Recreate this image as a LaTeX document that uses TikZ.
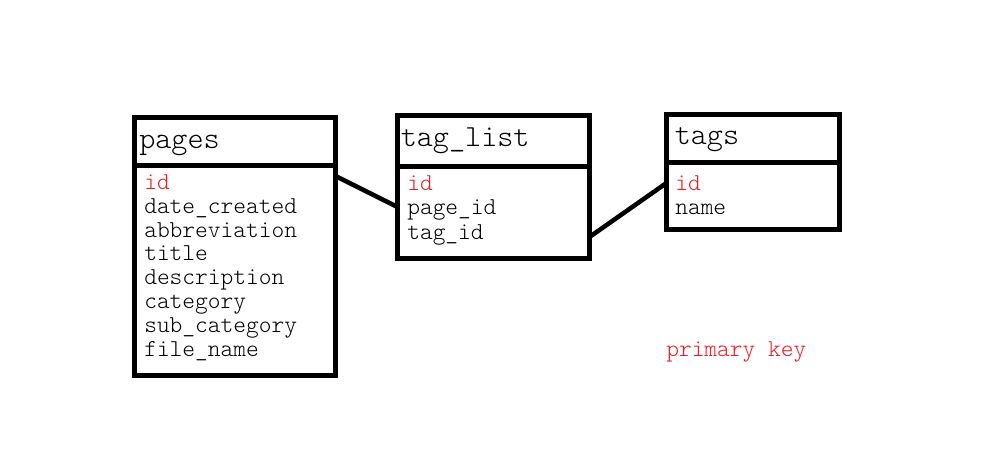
\documentclass[tikz,border=0pt]{standalone}
\usepackage{fontspec}
\setmonofont{lmmonolt10-regular.otf}
\usetikzlibrary{calc}
\definecolor{pkred}{HTML}{ED1C24}
\tikzset{
  tbl/.style={draw=black, line width=3.75pt, rectangle, inner sep=0pt, outer sep=0pt, fill=white},
  divider/.style={draw=black, line width=3.75pt},
  conn/.style={draw=black, line width=3.4pt},
  ttl/.style={anchor=base west, inner sep=0pt, font=\ttfamily\fontsize{23pt}{26pt}\selectfont},
  fld/.style={anchor=base west, inner sep=0pt, font=\ttfamily\fontsize{18.2pt}{21pt}\selectfont},
  pk/.style={fld, text=pkred}
}
\begin{document}
\begin{tikzpicture}[x=0.75pt, y=-0.75pt]
\useasboundingbox (0,0) rectangle (992,453);
\fill[white] (0,0) rectangle (992,453);
% boxes
\node[tbl, minimum width=151.1pt, minimum height=193.5pt] (pages) at (234.75,246) {};
\node[tbl, minimum width=144pt, minimum height=106.9pt] (taglist) at (493.5,186.75) {};
\node[tbl, minimum width=129.75pt, minimum height=85.9pt] (tags) at (753,172.25) {};
% dividers
\draw[divider] (pages.west |- 0,165) coordinate (pd1) -- (pages.east |- 0,165) coordinate (pd2);
\draw[divider] (taglist.west |- 0,166.5) coordinate (td1) -- (taglist.east |- 0,166.5) coordinate (td2);
\draw[divider] (tags.west |- 0,162.5) coordinate (gd1) -- (tags.east |- 0,162.5) coordinate (gd2);
% titles
\node[ttl] (tpages) at (139,148) {pages};
\node[ttl] (ttaglist) at (400.5,146.7) {tag\_list};
\node[ttl] (ttags) at (674.5,144.3) {tags};
% pages fields
\node[pk]  (p1) at (144,189.5) {id};
\node[fld] (p2) at (144,213.3) {date\_created};
\node[fld] (p3) at (144,237.1) {abbreviation};
\node[fld] (p4) at (144,260.9) {title};
\node[fld] (p5) at (144,284.7) {description};
\node[fld] (p6) at (144,308.5) {category};
\node[fld] (p7) at (144,332.3) {sub\_category};
\node[fld] (p8) at (144,356.1) {file\_name};
% tag_list fields
\node[pk]  (l1) at (407,190) {id};
\node[fld] (l2) at (407,214.5) {page\_id};
\node[fld] (l3) at (407,239) {tag\_id};
% tags fields
\node[pk]  (g1) at (675,190) {id};
\node[fld] (g2) at (675,214) {name};
% legend
\node[pk] (legend) at (666,356) {primary key};
% connectors
\draw[conn] ($(pages.north east)+(0,59)$) -- ($(taglist.north west)+(0,91.5)$);
\draw[conn] ($(taglist.north east)+(0,121.5)$) -- ($(tags.north west)+(0,68)$);
\end{tikzpicture}
\end{document}
